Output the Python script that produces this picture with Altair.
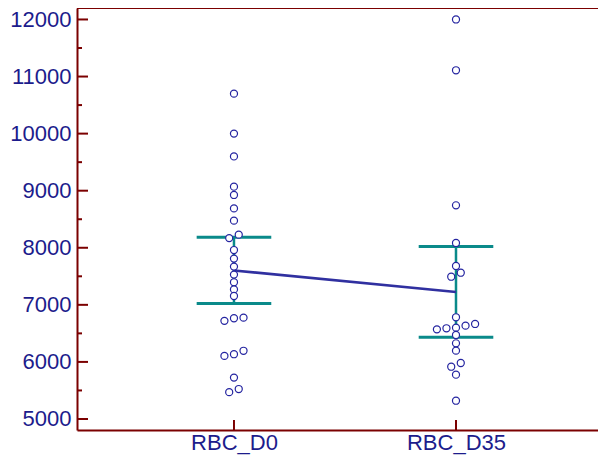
import altair as alt
import pandas as pd
import numpy as np

# ---- data ----
groups = ["RBC_D0", "RBC_D35"]
d0_values = [10700, 10000, 9600, 9070, 8925, 8690, 8475, 8170, 8230, 7960,
             7810, 7670, 7530, 7395, 7270, 7155, 6720, 6765, 6775, 6105,
             6135, 6195, 5725, 5470, 5525]
d0_dodge = [0, 0, 0, 0, 0, 0, 0, -0.5, 0.5, 0,
            0, 0, 0, 0, 0, 0, -1, 0, 1, -1,
            0, 1, 0, -0.5, 0.5]
d35_values = [12000, 11110, 8744, 8084, 7681, 7493, 7563, 6782, 6571, 6589,
              6600, 6635, 6665, 6472, 6326, 6197, 5916, 5981, 5776, 5320]
d35_dodge = [0, 0, 0, 0, 0, -0.5, 0.5, 0, -2, -1,
             0, 1, 2, 0, 0, 0, -0.5, 0.5, 0, 0]
t_crit = [2.064, 2.093]  # 95% two-sided t quantiles, df = 24 and df = 19
y_ticks_major = [5000, 6000, 7000, 8000, 9000, 10000, 11000, 12000]
y_ticks_minor = [5500, 6500, 7500, 8500, 9500, 10500, 11500]

# ---- styling ----
FRAME = "#7b0000"
NAVY = "#1c1c8c"
POINT = "#2424a0"
TEAL = "#0a8a8a"
MEANLINE = "#3030a0"
FONT = "Liberation Sans"
W, H = 521, 422
DODGE_STEP = 0.043
CAP_HALF = 0.168

series = [(d0_values, d0_dodge), (d35_values, d35_dodge)]
rows = []
summ = []
for gi, (vals, dodge) in enumerate(series):
    pos = gi + 1
    for v, d in zip(vals, dodge):
        rows.append({"group": groups[gi], "x": pos + d * DODGE_STEP, "value": v})
    arr = np.array(vals, dtype=float)
    m = arr.mean()
    half = t_crit[gi] * arr.std(ddof=1) / np.sqrt(len(arr))
    summ.append({"group": groups[gi], "pos": pos, "mean": m,
                 "lo": m - half, "hi": m + half,
                 "cl": pos - CAP_HALF, "cr": pos + CAP_HALF})
pts = pd.DataFrame(rows)
sm = pd.DataFrame(summ)
caps = pd.concat([sm.assign(yc=sm["lo"]), sm.assign(yc=sm["hi"])], ignore_index=True)

label_expr = " : ".join(
    [f"datum.value == {i + 1} ? '{g}'" for i, g in enumerate(groups)]) + " : ''"

xscale = alt.Scale(domain=[0.293, 2.6396], nice=False, zero=False)
yscale = alt.Scale(domain=[4807, 12201], nice=False, zero=False)
xaxis = alt.Axis(values=[1, 2], labelExpr=label_expr, title=None, ticks=False,
                 tickSize=0, grid=False, labelPadding=19, labelBaseline="alphabetic",
                 labelFlush=False, domainColor=FRAME, domainWidth=2)
yaxis = alt.Axis(values=y_ticks_major, format="d", title=None, ticks=False,
                 tickSize=0, grid=False, labelPadding=6, labelFlush=False,
                 domainColor=FRAME, domainWidth=2)

def X(field):
    return alt.X(field, type="quantitative", scale=xscale, axis=xaxis)

def Y(field):
    return alt.Y(field, type="quantitative", scale=yscale, axis=yaxis)

err_v = alt.Chart(sm).mark_rule(color=TEAL, strokeWidth=2.5).encode(
    x=X("pos"), y=Y("lo"), y2="hi")
err_caps = alt.Chart(caps).mark_rule(color=TEAL, strokeWidth=3).encode(
    x=X("cl"), x2="cr", y=Y("yc"))
mean_line = alt.Chart(sm).mark_line(color=MEANLINE, strokeWidth=2.6).encode(
    x=X("pos"), y=Y("mean"))
points = alt.Chart(pts).mark_point(
    shape="circle", filled=True, fill="white", stroke=POINT, strokeWidth=1.2,
    size=50, opacity=1, fillOpacity=1, strokeOpacity=1).encode(
    x=X("x"), y=Y("value"))

ymaj = alt.Chart(pd.DataFrame({"t": y_ticks_major})).mark_rule(
    color=FRAME, strokeWidth=2).encode(y=Y("t"), x=alt.value(0), x2=alt.value(11))
ymin = alt.Chart(pd.DataFrame({"t": y_ticks_minor})).mark_rule(
    color=FRAME, strokeWidth=2).encode(y=Y("t"), x=alt.value(0), x2=alt.value(5))
xt = alt.Chart(pd.DataFrame({"t": [1, 2]})).mark_rule(
    color=FRAME, strokeWidth=2).encode(x=X("t"), y=alt.value(H), y2=alt.value(H - 10))
top = alt.Chart(pd.DataFrame({"a": [0]})).mark_rule(
    color=FRAME, strokeWidth=2).encode(x=alt.value(0), x2=alt.value(W), y=alt.value(0))

chart = alt.layer(err_v, err_caps, mean_line, ymaj, ymin, xt, top, points).properties(
    width=W, height=H,
    autosize=alt.AutoSizeParams(type="none"),
    padding={"left": 69, "top": 0, "right": 0, "bottom": 27},
).configure_view(stroke=None).configure_axis(
    labelFont=FONT, labelFontSize=22, labelColor=NAVY,
)

chart.save("out.html", embed_options={"renderer": "svg", "actions": False})
